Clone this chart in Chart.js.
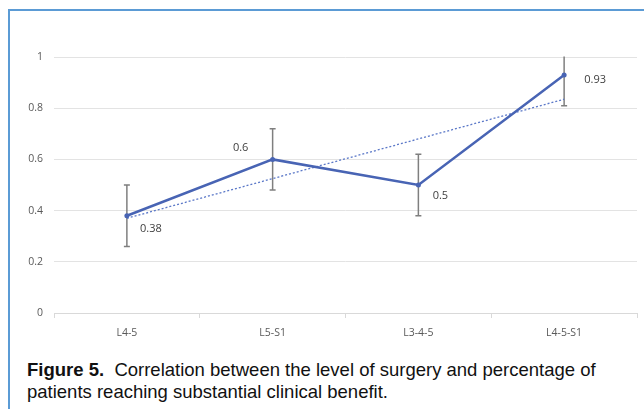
<!DOCTYPE html>
<html>
<head>
<meta charset="utf-8">
<script src="https://cdn.jsdelivr.net/npm/chart.js@4/dist/chart.umd.min.js"></script>
<style>
  html, body { margin: 0; padding: 0; background: #fff; }
  #wrap { position: relative; width: 644px; height: 409px; overflow: hidden; }
  #frame {
    position: absolute; left: 8px; top: 9px; width: 700px; height: 500px;
    border-left: 2px solid #5b9bd5; border-top: 2px solid #5b9bd5;
  }
  #chartBox { position: absolute; left: 0; top: 0; width: 644px; height: 345px; }
  #caption {
    position: absolute; left: 27px; top: 359px;
    font-family: "Liberation Sans", Arial, sans-serif; font-size: 18.5px;
    line-height: 22px; color: #111;
  }
</style>
</head>
<body>
<div id="wrap">
  <div id="frame"></div>
  <div id="chartBox"><canvas id="sbcChart"></canvas></div>
  <div id="caption"><b>Figure 5.</b>&nbsp; Correlation between the level of surgery and percentage of<br>patients reaching substantial clinical benefit.</div>
</div>
<script>
// data
const levels = ["L4-5", "L5-S1", "L3-4-5", "L4-5-S1"];
const sbcRate = [0.38, 0.6, 0.5, 0.93];
const errLow = [0.26, 0.48, 0.38, 0.81];
const errHigh = [0.50, 0.72, 0.62, 1.05];
const trendLine = [0.37, null, null, 0.835];
const yTicks = [0, 0.2, 0.4, 0.6, 0.8, 1];

// where each value label sits relative to its point (px)
const labelOffsets = [[24, 13], [-32, -12], [22, 11], [31, 5]];

const lineBlue = "#4864b4";
const axisGray = "#595959";

// error bars, drawn under the line
const errorBarPlugin = {
  id: "errorBars",
  beforeDatasetsDraw(chart) {
    const { ctx, chartArea, scales } = chart;
    const meta = chart.getDatasetMeta(0);
    ctx.save();
    ctx.beginPath();
    ctx.rect(chartArea.left, chartArea.top - 0.5, chartArea.right - chartArea.left, chartArea.bottom - chartArea.top + 1);
    ctx.clip();
    ctx.strokeStyle = "#7f7f7f";
    ctx.lineWidth = 1.5;
    meta.data.forEach((pt, i) => {
      const x = pt.x;
      const yLo = scales.y.getPixelForValue(errLow[i]);
      const yHi = scales.y.getPixelForValue(errHigh[i]);
      ctx.beginPath();
      ctx.moveTo(x, yLo);
      ctx.lineTo(x, yHi);
      ctx.moveTo(x - 3, yLo);
      ctx.lineTo(x + 3, yLo);
      ctx.moveTo(x - 3, yHi);
      ctx.lineTo(x + 3, yHi);
      ctx.stroke();
    });
    ctx.restore();
  },
};

// value labels next to the points
const valueLabelPlugin = {
  id: "valueLabels",
  afterDatasetsDraw(chart) {
    const { ctx } = chart;
    const meta = chart.getDatasetMeta(0);
    ctx.save();
    ctx.font = '11px "Open Sans", "DejaVu Sans", sans-serif';
    ctx.fillStyle = "#404040";
    ctx.textAlign = "center";
    ctx.textBaseline = "middle";
    meta.data.forEach((pt, i) => {
      ctx.fillText(String(sbcRate[i]), pt.x + labelOffsets[i][0], pt.y + labelOffsets[i][1]);
    });
    ctx.restore();
  },
};

document.addEventListener("DOMContentLoaded", function () {
  const ctx = document.getElementById("sbcChart");
  new Chart(ctx, {
    type: "line",
    data: {
      labels: levels,
      datasets: [
        {
          label: "SCB",
          data: sbcRate,
          borderColor: lineBlue,
          backgroundColor: lineBlue,
          borderWidth: 2.5,
          pointRadius: 2.5,
          pointBorderWidth: 0,
          pointHoverRadius: 2.5,
          tension: 0,
        },
        {
          label: "Trend",
          data: trendLine,
          spanGaps: true,
          borderColor: "#5b78c8",
          borderWidth: 1.3,
          borderDash: [2, 2],
          pointRadius: 0,
          tension: 0,
        },
      ],
    },
    options: {
      responsive: true,
      maintainAspectRatio: false,
      animation: false,
      layout: { padding: { top: 57, right: 7, bottom: 0, left: 0 } },
      plugins: { legend: { display: false }, tooltip: { enabled: false } },
      scales: {
        x: {
          offset: true,
          grid: {
            offset: true,
            drawOnChartArea: false,
            drawTicks: true,
            tickLength: 5,
            color: "#d9d9d9",
          },
          border: { color: "#d9d9d9", width: 1 },
          ticks: {
            color: axisGray,
            padding: 9,
            font: { family: '"Open Sans", "DejaVu Sans", sans-serif', size: 10.5 },
          },
          afterFit(scale) { scale.height = 32; },
        },
        y: {
          min: 0,
          max: 1,
          afterBuildTicks(scale) { scale.ticks = yTicks.map((v) => ({ value: v })); },
          grid: { color: "#e3e3e3", lineWidth: 1, drawTicks: false },
          border: { display: false },
          ticks: {
            color: axisGray,
            padding: 11,
            font: { family: '"Open Sans", "DejaVu Sans", sans-serif', size: 10.5 },
            callback: (v) => String(v),
          },
          afterFit(scale) { scale.width = 54; },
        },
      },
    },
    plugins: [errorBarPlugin, valueLabelPlugin],
  });
});
</script>
</body>
</html>
